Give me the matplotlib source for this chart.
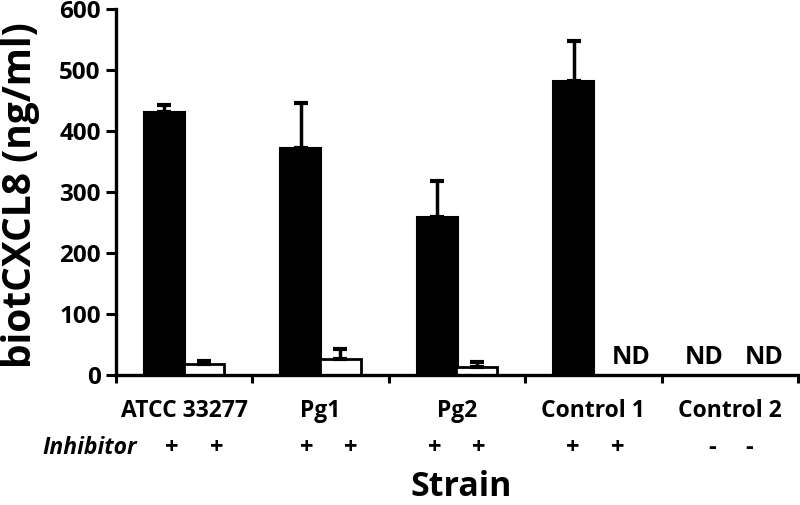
import numpy as np
import matplotlib
matplotlib.use("Agg")
import matplotlib.pyplot as plt

plt.rcParams['font.family'] = ['Open Sans', 'DejaVu Sans']

groups = ["ATCC 33277", "Pg1", "Pg2", "Control 1", "Control 2"]
black_vals = [431, 372, 258, 482, np.nan]
black_err = [11, 73, 59, 65, 0]
white_vals = [17, 25, 12, np.nan, np.nan]
white_err = [5, 17, 8, 0, 0]
inhibitor_signs = ["+", "+", "+", "+", "+", "+", "+", "+", "-", "-"]
nd_labels = ["ND", "ND", "ND"]
yticks = [0, 100, 200, 300, 400, 500, 600]

# layout (x positions in group units)
sign_x = [0.41, 0.74, 1.40, 1.72, 2.34, 2.66, 3.35, 3.68, 4.37, 4.64]
nd_x = [3.78, 4.31, 4.75]

fig = plt.figure(figsize=(8, 5.05), dpi=100)
ax = fig.add_axes([0.145, 0.2584, 0.8525, 0.7236])

centers = np.arange(len(groups)) + 0.5
bw = 0.30
bv = np.array(black_vals, dtype=float)
wv = np.array(white_vals, dtype=float)
be = np.array(black_err, dtype=float)
we = np.array(white_err, dtype=float)

ax.bar(centers - 0.145, bv, width=bw, color='black', edgecolor='black', linewidth=1.5, zorder=2)
ax.bar(centers + 0.145, wv, width=bw, color='white', edgecolor='black', linewidth=2, zorder=2)
mb = ~np.isnan(bv)
ax.errorbar((centers - 0.145)[mb], bv[mb], yerr=[np.zeros(mb.sum()), be[mb]], fmt='none',
            ecolor='black', elinewidth=2.5, capsize=5, capthick=3, zorder=1)
mw = ~np.isnan(wv)
ax.errorbar((centers + 0.145)[mw], wv[mw], yerr=[np.zeros(mw.sum()), we[mw]], fmt='none',
            ecolor='black', elinewidth=2.5, capsize=5, capthick=3, zorder=3)

ax.set_xlim(0, 5)
ax.set_ylim(0, 600)
ax.set_yticks(yticks)
ax.set_yticklabels([str(t) for t in yticks], fontsize=17.5, fontweight='bold')
ax.set_xticks(np.arange(0, 6))
ax.set_xticklabels([])
ax.tick_params(axis='y', direction='out', length=7, width=2.2, pad=4)
ax.tick_params(axis='x', direction='out', length=6, width=2.2)
for s in ['top', 'right']:
    ax.spines[s].set_visible(False)
for s in ['left', 'bottom']:
    ax.spines[s].set_linewidth(2.4)

for c, g in zip(centers, groups):
    ax.text(c, -60, g, ha='center', va='center', fontsize=16.5, fontweight='bold')
ax.text(-0.19, -121, "Inhibitor", ha='center', va='center', fontsize=16.5,
        fontweight='bold', style='italic', clip_on=False)
for x, s in zip(sign_x, inhibitor_signs):
    ax.text(x, -121, s, ha='center', va='center', fontsize=17, fontweight='bold')
for x, s in zip(nd_x, nd_labels):
    ax.text(x, 28, s, ha='center', va='center', fontsize=18, fontweight='bold')

fig.text(21 / 800, 0.614, "biotCXCL8 (ng/ml)", rotation=90, ha='center', va='center',
         fontsize=28, fontweight='bold')
fig.text(0.576, 0.035, "Strain", ha='center', va='center', fontsize=24.5, fontweight='bold')

fig.savefig("out.png", dpi=100)
